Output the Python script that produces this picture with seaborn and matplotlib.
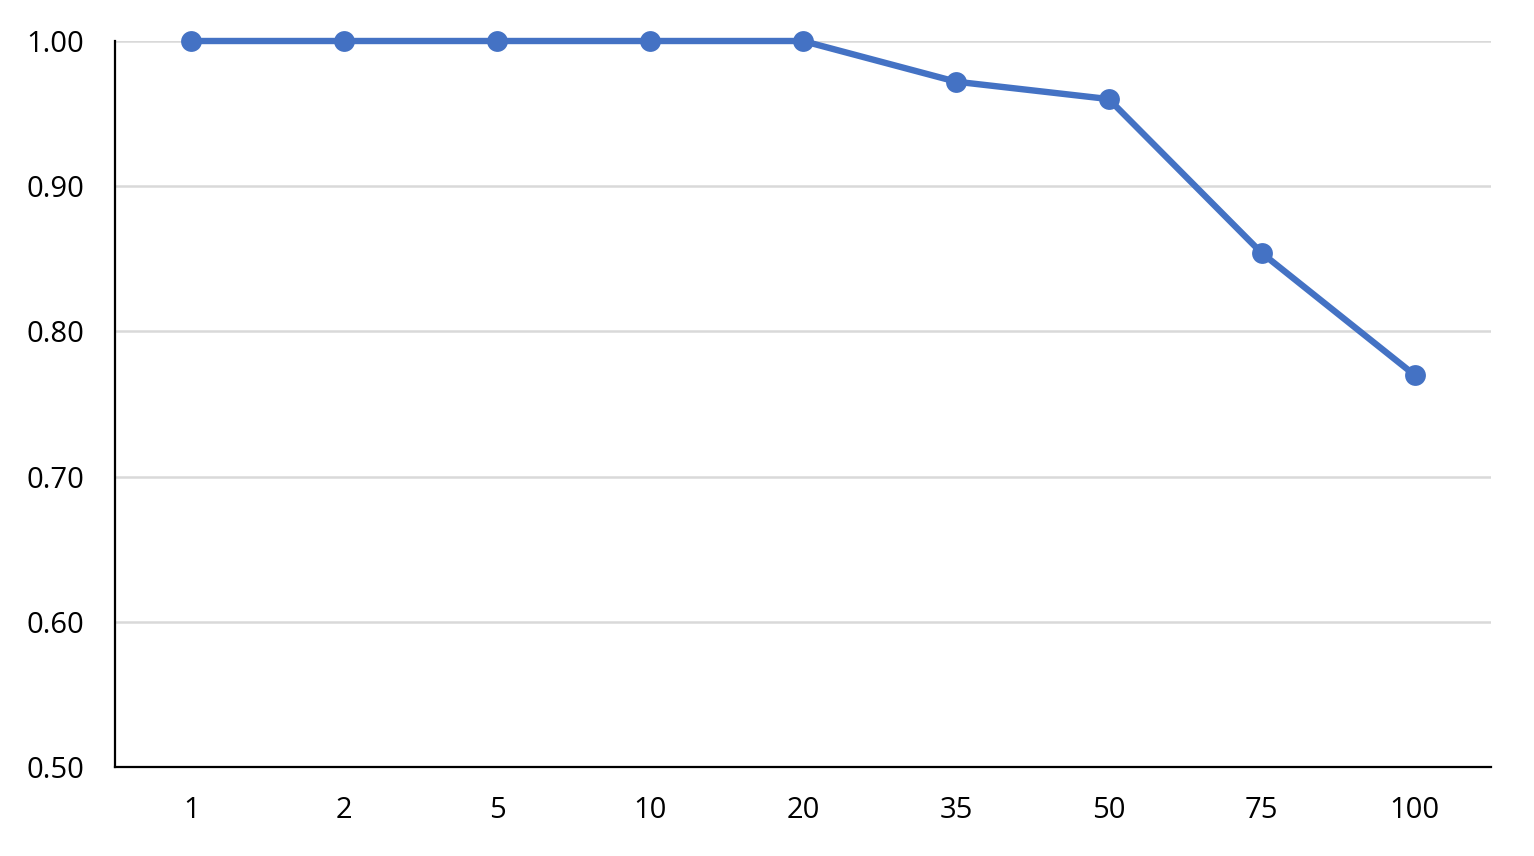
import matplotlib

matplotlib.use("Agg")
import matplotlib.pyplot as plt
import seaborn as sns
import pandas as pd

# values
categories = ["1", "2", "5", "10", "20", "35", "50", "75", "100"]
scores = [1.00, 1.00, 1.00, 1.00, 1.00, 0.972, 0.960, 0.854, 0.770]
y_ticks = [0.50, 0.60, 0.70, 0.80, 0.90, 1.00]

df = pd.DataFrame({"cat": categories, "score": scores})
df["pos"] = range(len(df))

sns.set_style("white")
plt.rcParams["font.family"] = ["Open Sans", "DejaVu Sans"]

fig = plt.figure(figsize=(15.34, 8.56), dpi=100)
ax = fig.add_axes([115 / 1534, 1 - 767 / 856, 1376 / 1534, 726 / 856])

sns.lineplot(data=df, x="pos", y="score", ax=ax, color="#4472C4", linewidth=4.6,
             marker="o", markersize=15, markeredgewidth=0, zorder=3, clip_on=False)

ax.set_xlim(-0.5, len(categories) - 0.5)
ax.set_ylim(0.5, 1.0)
ax.set_xticks(range(len(categories)))
ax.set_xticklabels(categories)
ax.set_yticks(y_ticks)
ax.set_yticklabels([f"{v:.2f}" for v in y_ticks])
ax.set_xlabel("")
ax.set_ylabel("")

ax.yaxis.grid(True, color="#D9D9D9", linewidth=1.8, zorder=0)
ax.xaxis.grid(False)
ax.set_axisbelow(True)

for side in ["top", "right"]:
    ax.spines[side].set_visible(False)
for side in ["left", "bottom"]:
    ax.spines[side].set_color("black")
    ax.spines[side].set_linewidth(1.6)

ax.tick_params(axis="y", length=0, pad=22, labelsize=21, colors="black")
ax.tick_params(axis="x", length=0, pad=21, labelsize=21, colors="black")

fig.savefig("out.png", dpi=100)
